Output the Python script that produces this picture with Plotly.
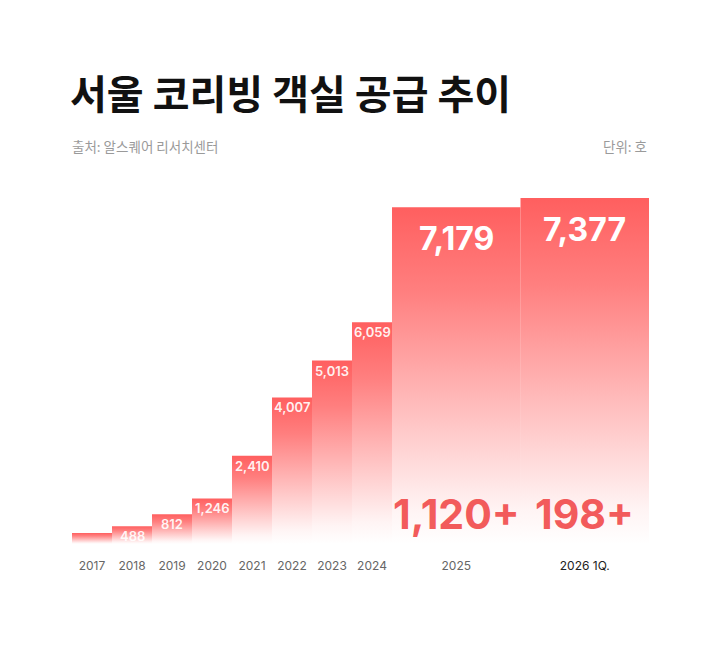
import plotly.graph_objects as go

# ---- data ----
years_early = ["2017", "2018", "2019", "2020", "2021", "2022", "2023", "2024"]
values_early = [300, 488, 812, 1246, 2410, 4007, 5013, 6059]
labels_early = ["", "488", "812", "1,246", "2,410", "4,007", "5,013", "6,059"]

years_late = ["2025", "2026 1Q."]
values_late = [7179, 7377]
labels_late = ["7,179", "7,377"]
increments = ["1,120+", "198+"]

title_text = "서울 코리빙 객실 공급 추이"
source_text = "출처: 알스퀘어 리서치센터"
unit_text = "단위: 호"

RED = "255,95,95"
KR = "Noto Sans CJK KR"
NUM = "Inter"

fig = go.Figure()


def add_bars(vals, xa, ya):
    for i, v in enumerate(vals):
        fig.add_trace(go.Scatter(
            x=[i - 0.5, i + 0.5, i + 0.5, i - 0.5, i - 0.5],
            y=[0, 0, v, v, 0],
            xaxis=xa, yaxis=ya,
            mode="lines", line=dict(width=0),
            fill="toself",
            fillgradient=dict(
                type="vertical", start=0, stop=v,
                colorscale=[[0, f"rgba({RED},0)"], [0.1, f"rgba({RED},0.07)"],
                            [0.75, f"rgba({RED},0.8)"], [1, f"rgba({RED},1)"]],
            ),
            hoverinfo="skip", showlegend=False,
        ))


add_bars(values_early, "x", "y")
add_bars(values_late, "x2", "y2")

# small value labels
for i, (v, t) in enumerate(zip(values_early, labels_early)):
    if t:
        fig.add_annotation(x=i, y=v, xref="x", yref="y", text=t, showarrow=False,
                           yanchor="middle", yshift=-10,
                           font=dict(family=NUM, size=13, color="rgba(255,255,255,0.92)", weight=600))

# big value labels
for i, (v, t) in enumerate(zip(values_late, labels_late)):
    fig.add_annotation(x=i, y=v, xref="x2", yref="y2", text=t, showarrow=False,
                       yanchor="middle", yshift=-31,
                       font=dict(family=NUM, size=32, color="white", weight=700))
    fig.add_annotation(x=i, y=0, xref="x2", yref="y2", text=increments[i], showarrow=False,
                       yanchor="middle", yshift=30,
                       font=dict(family=NUM, size=41, color="#f25b5b", weight=700))

# header texts
fig.add_annotation(x=0, y=1.0934, xref="paper", yref="paper", text=source_text,
                   showarrow=False, xanchor="left", yanchor="middle", xshift=-2,
                   font=dict(family=KR, size=13.5, color="#9a9a9a"))
fig.add_annotation(x=1, y=1.0934, xref="paper", yref="paper", text=unit_text,
                   showarrow=False, xanchor="right", yanchor="middle",
                   font=dict(family=KR, size=13.5, color="#9a9a9a"))

split = 320 / 577
axis_common = dict(showgrid=False, zeroline=False, showline=False, ticks="",
                   tickfont=dict(family=NUM, size=12, color="#666666"),
                   ticklabelstandoff=13, fixedrange=True)

fig.update_layout(
    width=720, height=660,
    paper_bgcolor="white", plot_bgcolor="white",
    margin=dict(l=64, r=79, t=172, b=124),
    title=dict(text=title_text, x=62 / 720, y=1 - 87 / 660, xanchor="left", yanchor="middle",
               font=dict(family=KR, size=40, color="#111111", weight=700)),
    xaxis=dict(domain=[0, split], range=[-0.5, 7.5], anchor="y",
               tickvals=list(range(len(years_early))), ticktext=years_early, **axis_common),
    xaxis2=dict(domain=[split, 1], range=[-0.5, 1.5], anchor="y2",
                tickvals=list(range(len(years_late))),
                ticktext=[years_late[0], f'<span style="color:#222222">{years_late[1]}</span>'],
                **axis_common),
    yaxis=dict(range=[0, 9950], visible=False, fixedrange=True),
    yaxis2=dict(range=[0, 7761], visible=False, anchor="x2", fixedrange=True),
    hovermode=False,
)

fig.write_html("out.html")
